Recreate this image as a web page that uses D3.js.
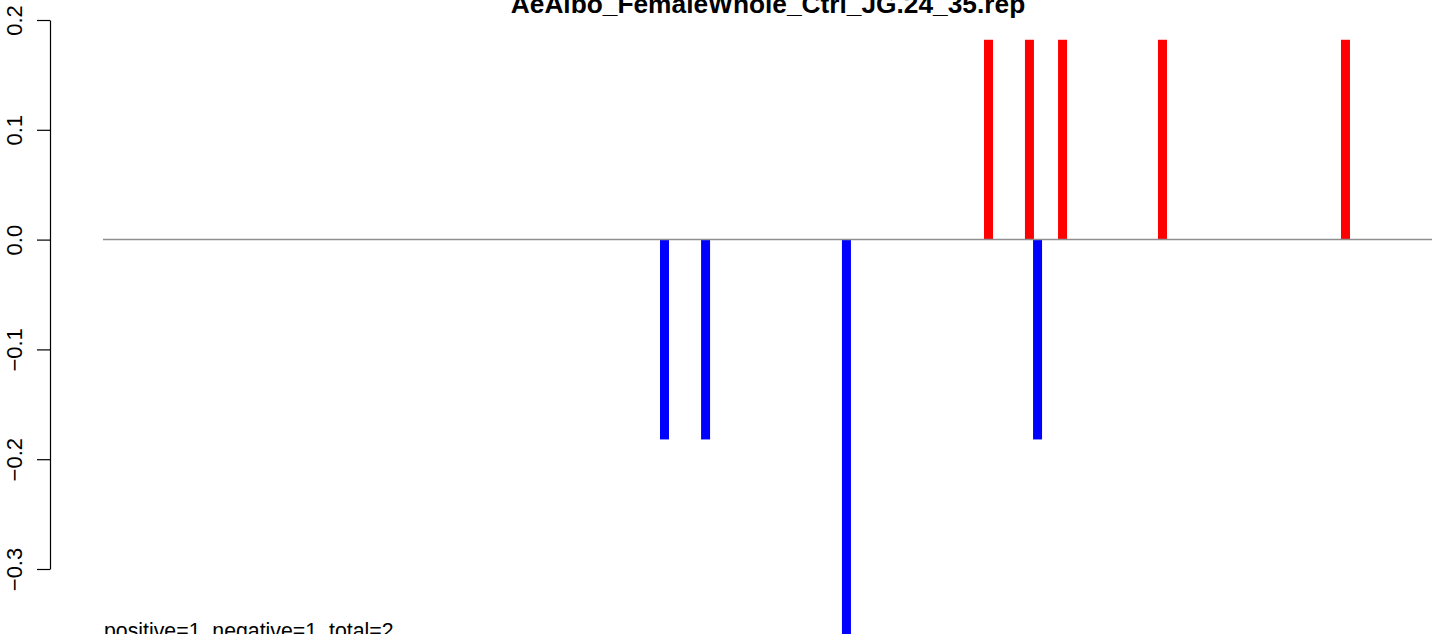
<!DOCTYPE html>
<html>
<head>
<meta charset="utf-8">
<script src="https://cdn.jsdelivr.net/npm/d3@7"></script>
<style>
  body { margin: 0; background: #ffffff; }
  svg { display: block; font-family: "Liberation Sans", Arial, Helvetica, sans-serif; }
</style>
</head>
<body>
<script>
///////////////////////////
// DATA
var chartTitle = "AeAlbo_FemaleWhole_Ctrl_JG.24_35.rep";
var summaryText = "positive=1, negative=1, total=2";
var positions = [42.25, 45.34, 55.94, 66.63, 69.71, 70.32, 72.20, 79.72, 93.49];
var values    = [-0.182, -0.182, -0.364, 0.182, 0.182, -0.182, 0.182, 0.182, 0.182];
var yTicks = [0.2, 0.1, 0.0, -0.1, -0.2, -0.3];
var xExtent = [0, 100];

///////////////////////////
// CONSTRUCT SVG
var width = 1449,
    height = 634;

var svg = d3.select("body")
  .append("svg")
  .attr("width", width)
  .attr("height", height);

var x = d3.scaleLinear().domain(xExtent).range([103, 1432]);
var y = d3.scaleLinear().domain([-0.3, 0.2]).range([569, 20]);

// bars (R type="h" style)
var barW = 9;
svg.append("g")
  .selectAll("rect")
  .data(values)
  .enter()
  .append("rect")
  .attr("x", function(d, i){ return x(positions[i]) - barW/2; })
  .attr("y", function(d){ return d > 0 ? y(d) : y(0); })
  .attr("width", barW)
  .attr("height", function(d){ return Math.abs(y(d) - y(0)); })
  .attr("fill", function(d){ return d > 0 ? "#ff0000" : "#0000ff"; });

// zero line
svg.append("line")
  .attr("x1", x(xExtent[0]))
  .attr("x2", x(xExtent[1]))
  .attr("y1", y(0))
  .attr("y2", y(0))
  .attr("stroke", "#8f8f8f")
  .attr("stroke-width", 1.5);

// y axis
var yAxis = d3.axisLeft(y)
  .tickValues(yTicks)
  .tickFormat(d3.format(".1f"))
  .tickSize(13)
  .tickSizeOuter(0);

var gy = svg.append("g")
  .attr("transform", "translate(50,0)")
  .call(yAxis);
gy.select(".domain").attr("stroke", "#000").attr("stroke-width", 1.2);
gy.selectAll(".tick line").attr("stroke", "#000").attr("stroke-width", 1.2);
gy.selectAll(".tick text")
  .attr("transform", "rotate(-90)")
  .attr("x", 0)
  .attr("y", -28)
  .attr("dy", 0)
  .attr("text-anchor", "middle")
  .attr("fill", "#000")
  .style("font-size", "22px")
  .style("font-family", "'Liberation Sans', Arial, Helvetica, sans-serif");

// title
svg.append("text")
  .attr("x", 768)
  .attr("y", 13)
  .attr("text-anchor", "middle")
  .style("font-weight", "bold")
  .style("font-size", "26.3px")
  .text(chartTitle);

// summary text at the bottom
svg.append("text")
  .attr("x", 104)
  .attr("y", 638)
  .style("font-size", "21.3px")
  .text(summaryText);
</script>
</body>
</html>
